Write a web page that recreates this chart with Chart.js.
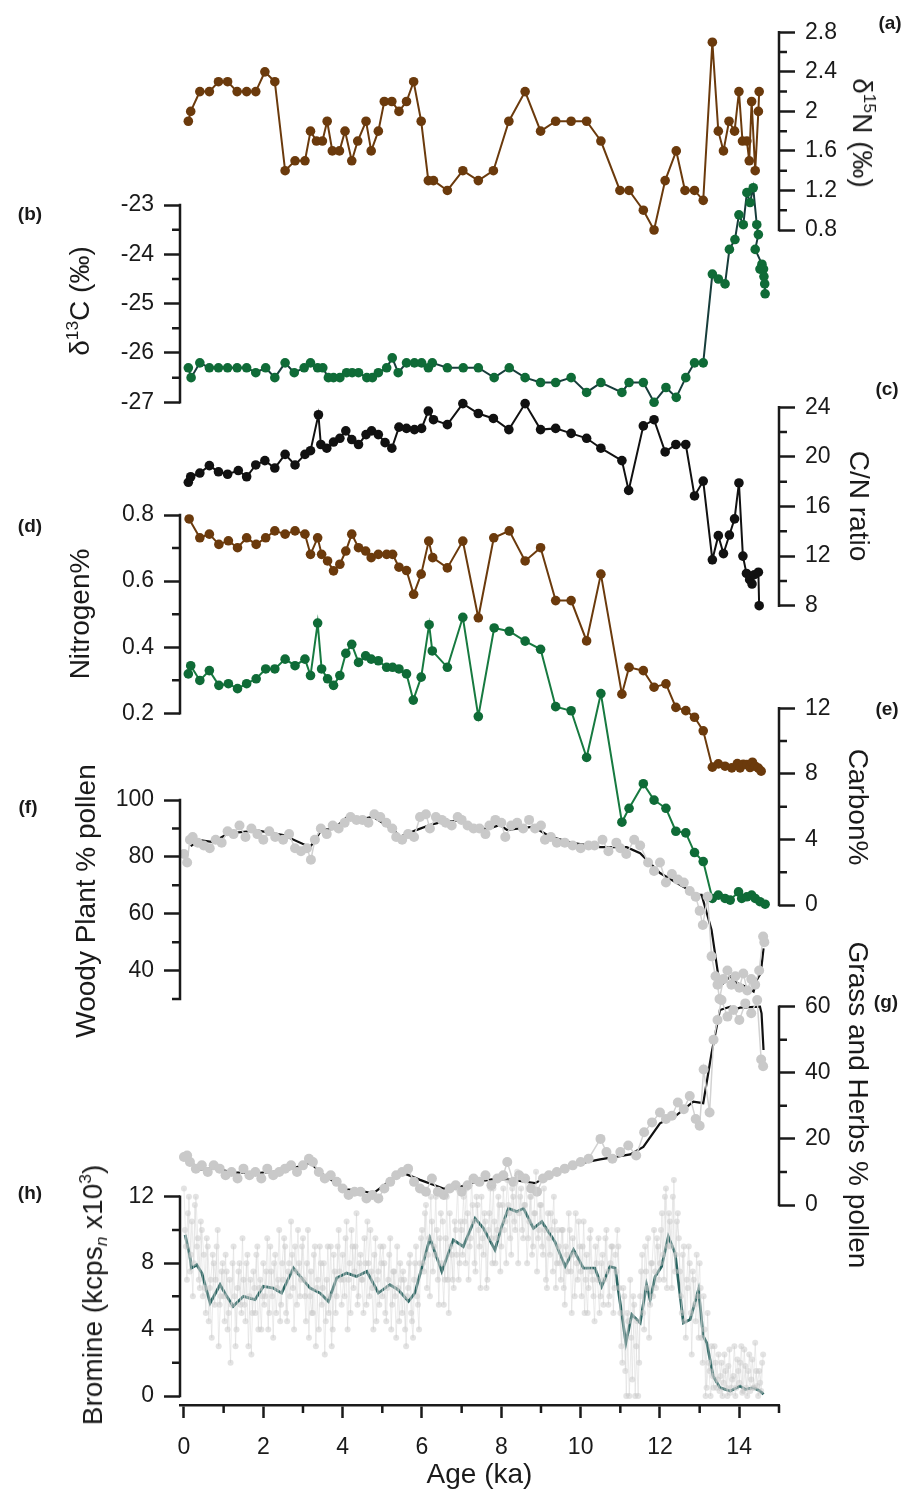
<!DOCTYPE html>
<html lang="en">
<head>
<meta charset="UTF-8">
<title>Lake core proxies</title>
<script src="https://cdnjs.cloudflare.com/ajax/libs/Chart.js/4.4.0/chart.umd.min.js"></script>
<style>
  body { margin: 0; background: #fff; }
  #wrap { position: relative; width: 914px; height: 1495px; font-family: "Liberation Sans", Arial, Helvetica, sans-serif; color: #1a1a1a; }
  #wrap canvas { position: absolute; left: 0; top: 0; }
  .lab { position: absolute; white-space: nowrap; transform: translate(-50%, -50%); line-height: 1; z-index: 5; }
  .tag { font-weight: bold; font-size: 19px; }
  .ttl { font-size: 28px; }
  .rl { transform: translate(-50%, -50%) rotate(-90deg); }
  .rr { transform: translate(-50%, -50%) rotate(90deg); }
  sup { font-size: 0.62em; vertical-align: 0.62em; line-height: 0; }
  sub { font-size: 0.62em; vertical-align: -0.3em; line-height: 0; }
</style>
</head>
<body>
<div id="wrap">
  <div class="lab tag" style="left:890px;top:22px">(a)</div>
  <div class="lab tag" style="left:30px;top:213px">(b)</div>
  <div class="lab tag" style="left:887px;top:388px">(c)</div>
  <div class="lab tag" style="left:30px;top:525px">(d)</div>
  <div class="lab tag" style="left:887px;top:708px">(e)</div>
  <div class="lab tag" style="left:28px;top:806px">(f)</div>
  <div class="lab tag" style="left:886px;top:1001px">(g)</div>
  <div class="lab tag" style="left:30px;top:1192px">(h)</div>

  <div class="lab ttl rr" style="left:862px;top:133px">δ<sup>15</sup>N (‰)</div>
  <div class="lab ttl rl" style="left:80px;top:301px">δ<sup>13</sup>C (‰)</div>
  <div class="lab ttl rr" style="left:859px;top:506px">C/N ratio</div>
  <div class="lab ttl rl" style="left:80px;top:614px">Nitrogen%</div>
  <div class="lab ttl rr" style="left:858px;top:807px">Carbon%</div>
  <div class="lab ttl rl" style="left:86px;top:901px">Woody Plant % pollen</div>
  <div class="lab ttl rr" style="left:858px;top:1105px">Grass and Herbs % pollen</div>
  <div class="lab ttl rl" style="left:93px;top:1295px">Bromine (kcps<sub><i>n</i></sub> x10<sup>3</sup>)</div>
</div>

<script>
// ---- data (ages in ka) ----
const n15Age = [0.11,0.17,0.40,0.64,0.87,1.10,1.34,1.58,1.81,2.04,2.29,2.55,2.80,3.05,3.19,3.34,3.49,3.61,3.74,3.92,4.06,4.23,4.38,4.59,4.72,4.90,5.05,5.24,5.42,5.61,5.79,5.98,6.16,6.29,6.64,7.03,7.42,7.80,8.19,8.60,8.99,9.37,9.76,10.15,10.51,10.99,11.22,11.58,11.85,12.13,12.41,12.63,12.87,13.09,13.32,13.47,13.60,13.74,13.88,13.99,14.08,14.19,14.25,14.31,14.40,14.48,14.50];
const n15Val = [1.9,2.0,2.2,2.2,2.3,2.3,2.2,2.2,2.2,2.4,2.3,1.4,1.5,1.5,1.8,1.7,1.7,1.9,1.6,1.6,1.8,1.5,1.7,1.9,1.6,1.8,2.1,2.1,2.0,2.1,2.3,1.9,1.3,1.3,1.2,1.4,1.3,1.4,1.9,2.2,1.8,1.9,1.9,1.9,1.7,1.2,1.2,1.0,0.8,1.3,1.6,1.2,1.2,1.1,2.7,1.8,1.6,1.9,1.8,2.2,1.7,1.7,1.5,2.1,1.4,2.0,2.2];

const c13Age = [0.11,0.18,0.40,0.64,0.87,1.10,1.34,1.58,1.81,2.06,2.29,2.55,2.78,3.03,3.19,3.37,3.50,3.64,3.77,3.93,4.10,4.24,4.40,4.61,4.75,4.90,5.11,5.25,5.40,5.61,5.81,5.99,6.16,6.26,6.64,7.04,7.42,7.82,8.20,8.60,8.99,9.37,9.76,10.15,10.51,11.04,11.22,11.58,11.85,12.15,12.41,12.65,12.87,13.09,13.32,13.47,13.64,13.75,13.89,13.99,14.10,14.19,14.27,14.35,14.44,14.48,14.40,14.57,14.52,14.61,14.62,14.64,14.65];
const c13Val = [-26.3,-26.5,-26.2,-26.3,-26.3,-26.3,-26.3,-26.3,-26.4,-26.3,-26.5,-26.2,-26.4,-26.3,-26.2,-26.3,-26.3,-26.5,-26.5,-26.5,-26.4,-26.4,-26.4,-26.5,-26.5,-26.4,-26.3,-26.1,-26.4,-26.2,-26.2,-26.2,-26.3,-26.2,-26.3,-26.3,-26.3,-26.5,-26.3,-26.5,-26.6,-26.6,-26.5,-26.8,-26.6,-26.8,-26.6,-26.6,-27.0,-26.7,-26.9,-26.5,-26.2,-26.2,-24.4,-24.5,-24.6,-23.9,-23.7,-23.2,-23.4,-22.75,-22.95,-22.65,-23.4,-23.6,-23.9,-24.2,-24.3,-24.3,-24.45,-24.6,-24.8];

const cnAge = [0.11,0.17,0.40,0.64,0.87,1.10,1.37,1.58,1.81,2.04,2.29,2.55,2.80,3.05,3.19,3.39,3.45,3.60,3.77,3.93,4.08,4.23,4.40,4.59,4.73,4.90,5.07,5.24,5.42,5.61,5.81,5.99,6.16,6.29,6.64,7.03,7.42,7.80,8.19,8.60,8.99,9.37,9.76,10.15,10.51,11.04,11.21,11.58,11.85,12.13,12.40,12.65,12.87,13.09,13.32,13.47,13.60,13.75,13.88,13.99,14.09,14.18,14.26,14.32,14.38,14.48,14.50];
const cnVal = [17.95,18.4,18.7,19.3,18.8,18.6,18.9,18.4,19.35,19.7,19.1,20.2,19.35,20.2,20.5,23.4,21.0,20.7,21.2,21.5,22.1,21.4,21.0,21.8,22.1,21.8,21.15,20.7,22.4,22.3,22.2,22.3,23.7,23.0,22.6,24.3,23.5,23.1,22.2,24.3,22.2,22.3,21.9,21.5,20.7,19.7,17.3,22.5,23.0,20.4,21.0,21.0,16.85,18.05,11.7,13.65,12.2,13.7,15.0,17.9,12.0,10.6,10.1,9.75,10.5,10.7,8.0];

const nitAge = [0.13,0.40,0.64,0.88,1.12,1.35,1.58,1.82,2.06,2.29,2.55,2.80,3.05,3.19,3.37,3.47,3.62,3.77,3.93,4.08,4.23,4.40,4.58,4.72,4.90,5.11,5.26,5.42,5.61,5.79,5.98,6.17,6.27,6.64,7.03,7.42,7.81,8.20,8.60,8.99,9.37,9.76,10.15,10.51,11.04,11.22,11.58,11.85,12.15,12.40,12.65,12.87,13.09,13.32,13.47,13.64,13.81,13.95,14.02,14.10,14.19,14.27,14.33,14.40,14.48,14.55];
const nitVal = [0.788,0.731,0.742,0.711,0.722,0.701,0.731,0.711,0.731,0.752,0.742,0.752,0.742,0.681,0.731,0.681,0.661,0.631,0.651,0.691,0.742,0.701,0.691,0.671,0.681,0.681,0.681,0.642,0.632,0.560,0.621,0.721,0.671,0.640,0.721,0.489,0.731,0.752,0.661,0.701,0.541,0.541,0.419,0.621,0.258,0.339,0.329,0.279,0.289,0.218,0.208,0.188,0.147,0.037,0.047,0.040,0.035,0.048,0.035,0.046,0.045,0.036,0.052,0.040,0.034,0.025];

const carbAge = [0.11,0.17,0.40,0.64,0.88,1.12,1.35,1.58,1.82,2.06,2.29,2.55,2.80,3.05,3.19,3.37,3.47,3.62,3.77,3.93,4.08,4.23,4.40,4.58,4.72,4.90,5.11,5.26,5.42,5.61,5.78,5.98,6.18,6.26,6.64,7.03,7.42,7.82,8.20,8.60,8.99,9.37,9.76,10.15,10.51,11.04,11.22,11.58,11.85,12.15,12.40,12.65,12.87,13.09,13.32,13.47,13.64,13.77,13.98,14.06,14.19,14.31,14.40,14.52,14.65];
const carbVal = [14.1,14.6,13.7,14.3,13.4,13.5,13.2,13.5,13.8,14.4,14.4,15.0,14.6,15.0,14.0,17.2,14.4,13.8,13.4,14.0,15.35,15.9,14.8,15.2,15.0,14.9,14.5,14.5,14.4,14.1,12.5,13.9,17.1,15.5,14.5,17.55,11.5,16.9,16.7,16.1,15.6,12.1,11.85,9.0,12.9,5.05,5.9,7.4,6.4,5.9,4.5,4.4,3.2,2.65,0.4,0.6,0.4,0.3,0.8,0.4,0.5,0.6,0.4,0.2,0.05];

const woodyAge = [0.0,0.08,0.15,0.22,0.35,0.5,0.65,0.8,0.95,1.1,1.25,1.4,1.55,1.7,1.85,2.0,2.15,2.3,2.5,2.65,2.8,2.95,3.1,3.2,3.3,3.45,3.6,3.75,3.9,4.05,4.2,4.35,4.5,4.65,4.8,4.95,5.1,5.25,5.35,5.5,5.65,5.8,5.95,6.1,6.2,6.35,6.5,6.6,6.75,6.9,7.0,7.15,7.3,7.45,7.6,7.7,7.85,8.0,8.1,8.25,8.4,8.55,8.7,8.85,9.0,9.1,9.25,9.4,9.6,9.8,10.0,10.2,10.35,10.55,10.7,10.9,11.0,11.15,11.35,11.5,11.7,11.85,12.0,12.15,12.3,12.45,12.6,12.75,12.9,13.0,13.08,13.2,13.3,13.4,13.45,13.5,13.6,13.7,13.8,13.9,14.0,14.1,14.2,14.3,14.4,14.5,14.6,14.63];
const woodyVal = [81,78,86,87,85,84,83,86,85,89,88,91,87,90,88,86,89,87,86,88,83,82,83,79,86,90,88,91,90,92,94,93,93,92,95,94,92,90,87,86,88,87,94,95,90,94,93,92,91,94,93,91,90,90,88,91,93,92,87,91,92,90,93,90,91,86,87,85,85,84,83,84,84,86,82,85,83,81,86,84,78,75,78,71,74,72,71,68,66,61,56,66,45,38,35,30,37,40,35,38,34,39,33,37,35,40,52,50];
const woodyFitAge = [0.17,0.4,0.74,1.12,1.58,1.87,2.5,3.18,3.47,3.77,4.1,4.4,4.77,5.28,5.45,5.87,6.2,6.54,6.88,7.21,7.63,7.97,8.14,8.47,8.81,9.23,9.82,10.49,11.16,11.5,12.0,12.59,12.88,13.05,13.3,13.51,13.77,13.94,14.15,14.36,14.44,14.54,14.61];
const woodyFitVal = [83.8,85.9,85.2,88.3,88.9,89.2,87.7,83.4,89.5,89.8,93.9,93.0,94.1,89.5,87.1,89.5,91.2,92.4,92.7,91.2,89.7,91.2,89.5,90.0,90.6,87.1,84.8,83.4,83.4,81.3,74.3,69.5,66.6,66.6,54.3,34.4,37.9,35.6,34.4,32.6,36.7,39.1,47.8];

const grassAge = [0.0,0.08,0.15,0.3,0.45,0.6,0.75,0.9,1.05,1.2,1.35,1.5,1.65,1.8,1.95,2.1,2.25,2.4,2.55,2.7,2.85,3.0,3.15,3.25,3.4,3.55,3.7,3.85,4.0,4.15,4.3,4.45,4.6,4.75,4.9,5.05,5.2,5.35,5.5,5.65,5.8,5.95,6.1,6.25,6.4,6.55,6.7,6.85,7.0,7.15,7.3,7.45,7.6,7.75,7.9,8.05,8.15,8.3,8.45,8.6,8.75,8.9,9.05,9.2,9.4,9.6,9.8,10.0,10.2,10.5,10.65,10.8,11.0,11.2,11.4,11.6,11.8,12.0,12.15,12.3,12.45,12.6,12.75,12.9,13.0,13.1,13.25,13.35,13.45,13.55,13.7,13.85,14.0,14.15,14.3,14.45,14.55,14.6];
const grassVal = [14.5,15,13,11,12,10,12,11,9,10,8,11,9,10,8,11,9,10,11,12,10,12,14,13,10,8,9,7,5,3,4,4,2,3,2,5,7,9,10,11,7,5,4,8,4,3,5,6,4,6,8,7,9,6,8,9,13,7,9,8,5,4,8,9,10,11,12,13,14,20,16,14,16,18,15,22,25,28,26,27,31,29,33,26,24,41,28,50,56,62,57,59,56,61,58,62,44,42];
const grassFitAge = [0.15,0.4,0.74,1.24,1.75,2.34,2.76,3.18,3.51,4.1,4.44,4.77,5.28,5.45,5.95,6.54,6.83,7.29,7.8,8.14,8.56,8.85,9.31,9.98,10.49,11.25,11.58,12.0,12.42,12.84,13.09,13.3,13.51,13.77,13.85,14.02,14.52,14.56,14.61];
const grassFitVal = [13.1,10.8,11.1,9.9,9.6,10.1,11.1,12.8,9.1,4.7,4.3,3.5,8.1,10.1,7.6,5.0,5.0,6.8,7.8,7.8,7.1,6.6,9.6,12.6,13.8,15.3,17.6,24.7,27.2,31.3,30.8,45.9,59.0,60.0,59.0,59.7,60.0,58.0,46.9];

// bromine scan, read as two interleaved passes (every 0.05 ka, offset by 0.025 ka)
const brAge = [
  0,0.05,0.1,0.15,0.2,0.25,0.3,0.35,0.4,0.45, 0.5,0.55,0.6,0.65,0.7,0.75,0.8,0.85,0.9,0.95,
  1,1.05,1.1,1.15,1.2,1.25,1.3,1.35,1.4,1.45, 1.5,1.55,1.6,1.65,1.7,1.75,1.8,1.85,1.9,1.95,
  2,2.05,2.1,2.15,2.2,2.25,2.3,2.35,2.4,2.45, 2.5,2.55,2.6,2.65,2.7,2.75,2.8,2.85,2.9,2.95,
  3,3.05,3.1,3.15,3.2,3.25,3.3,3.35,3.4,3.45, 3.5,3.55,3.6,3.65,3.7,3.75,3.8,3.85,3.9,3.95,
  4,4.05,4.1,4.15,4.2,4.25,4.3,4.35,4.4,4.45, 4.5,4.55,4.6,4.65,4.7,4.75,4.8,4.85,4.9,4.95,
  5,5.05,5.1,5.15,5.2,5.25,5.3,5.35,5.4,5.45, 5.5,5.55,5.6,5.65,5.7,5.75,5.8,5.85,5.9,5.95,
  6,6.05,6.1,6.15,6.2,6.25,6.3,6.35,6.4,6.45, 6.5,6.55,6.6,6.65,6.7,6.75,6.8,6.85,6.9,6.95,
  7,7.05,7.1,7.15,7.2,7.25,7.3,7.35,7.4,7.45, 7.5,7.55,7.6,7.65,7.7,7.75,7.8,7.85,7.9,7.95,
  8,8.05,8.1,8.15,8.2,8.25,8.3,8.35,8.4,8.45, 8.5,8.55,8.6,8.65,8.7,8.75,8.8,8.85,8.9,8.95,
  9,9.05,9.1,9.15,9.2,9.25,9.3,9.35,9.4,9.45, 9.5,9.55,9.6,9.65,9.7,9.75,9.8,9.85,9.9,9.95,
  10,10.05,10.1,10.15,10.2,10.25,10.3,10.35,10.4,10.45, 10.5,10.55,10.6,10.65,10.7,10.75,10.8,10.85,10.9,10.95,
  11,11.05,11.1,11.15,11.2,11.25,11.3,11.35,11.4,11.45, 11.5,11.55,11.6,11.65,11.7,11.75,11.8,11.85,11.9,11.95,
  12,12.05,12.1,12.15,12.2,12.25,12.3,12.35,12.4,12.45, 12.5,12.55,12.6,12.65,12.7,12.75,12.8,12.85,12.9,12.95,
  13,13.05,13.1,13.15,13.2,13.25,13.3,13.35,13.4,13.45, 13.5,13.55,13.6,13.65,13.7,13.75,13.8,13.85,13.9,13.95,
  14,14.05,14.1,14.15,14.2,14.25,14.3,14.35,14.4,14.45, 14.5,14.55,14.6];
const brVal = [
  12.5,9,11,7.5,10.5,8,12,9.5,6.5,10, 8.5,5,9,6.5,3.5,8,7,10,5.5,7.5,
  6,8.5,4,7,5.5,9,3,6.5,8,5, 7,4.5,8.5,6,2.5,7.5,5,9,6.5,4,
  8,6,9.5,5,7.5,3.5,8.5,6.5,10,5.5, 7,9,4.5,8,10.5,6.5,9,5.5,8,7,
  9.5,6,8,3.5,7.5,5,9,6.5,4,8, 6.5,2.5,7,5,9,4,7.5,6,10,7,
  8.5,6,10.5,7,5,9,7.5,11,6,8.5, 7,9.5,5.5,8,10,6.5,8.5,4.5,7.5,9,
  6,8,4.5,7,9.5,5.5,7.5,3.5,6.5,8, 5,7,3,6.5,8.5,4.5,7,9,5.5,8,
  10,7.5,11.5,8.5,6,10.5,9,12,7,9.5, 8,5.5,9.5,7,11,8.5,6.5,10,12.5,8,
  10,12,8,11,9,13,10.5,7.5,11.5,9, 12,8.5,10.5,7,11,9.5,12.5,8,10,11.5,
  9,12.5,10.5,13,11,8.5,12,10,13.5,11, 12.5,9.5,11.5,8,10.5,12,9,11,7.5,10,
  11.5,8.5,10,6.5,9.5,11,7.5,10.5,8,9, 7,10,5.5,8.5,11,7.5,9.5,6,8,10.5,
  7.5,9,5,8.5,6.5,10,7,4.5,8,9.5, 6,8.5,7,10,5.5,8,9,6.5,7.5,9,
  5,2,6,0,4.5,7,1,5.5,3,0, 6,8.5,4,7.5,9.5,5.5,8,10,6.5,9,
  8,11,7,12.5,9,10.5,6.5,13,8.5,11, 7.5,5,9,3.5,6.5,8,2.5,7,4.5,6,
  8,3.5,6,0,5,1.5,3,0.5,2,1, 0.3,2,0.8,1.5,0,2.8,0.5,1.2,0,2.2,
  0.8,3,0.3,1.8,0,2.5,1,0.5,3.2,0.6, 1.5,0.3,2.5];
const brAge2 = [
  0.025,0.075,0.125,0.175,0.225,0.275,0.325,0.375,0.425,0.475, 0.525,0.575,0.625,0.675,0.725,0.775,0.825,0.875,0.925,0.975,
  1.025,1.075,1.125,1.175,1.225,1.275,1.325,1.375,1.425,1.475, 1.525,1.575,1.625,1.675,1.725,1.775,1.825,1.875,1.925,1.975,
  2.025,2.075,2.125,2.175,2.225,2.275,2.325,2.375,2.425,2.475, 2.525,2.575,2.625,2.675,2.725,2.775,2.825,2.875,2.925,2.975,
  3.025,3.075,3.125,3.175,3.225,3.275,3.325,3.375,3.425,3.475, 3.525,3.575,3.625,3.675,3.725,3.775,3.825,3.875,3.925,3.975,
  4.025,4.075,4.125,4.175,4.225,4.275,4.325,4.375,4.425,4.475, 4.525,4.575,4.625,4.675,4.725,4.775,4.825,4.875,4.925,4.975,
  5.025,5.075,5.125,5.175,5.225,5.275,5.325,5.375,5.425,5.475, 5.525,5.575,5.625,5.675,5.725,5.775,5.825,5.875,5.925,5.975,
  6.025,6.075,6.125,6.175,6.225,6.275,6.325,6.375,6.425,6.475, 6.525,6.575,6.625,6.675,6.725,6.775,6.825,6.875,6.925,6.975,
  7.025,7.075,7.125,7.175,7.225,7.275,7.325,7.375,7.425,7.475, 7.525,7.575,7.625,7.675,7.725,7.775,7.825,7.875,7.925,7.975,
  8.025,8.075,8.125,8.175,8.225,8.275,8.325,8.375,8.425,8.475, 8.525,8.575,8.625,8.675,8.725,8.775,8.825,8.875,8.925,8.975,
  9.025,9.075,9.125,9.175,9.225,9.275,9.325,9.375,9.425,9.475, 9.525,9.575,9.625,9.675,9.725,9.775,9.825,9.875,9.925,9.975,
  10.025,10.075,10.125,10.175,10.225,10.275,10.325,10.375,10.425,10.475, 10.525,10.575,10.625,10.675,10.725,10.775,10.825,10.875,10.925,10.975,
  11.025,11.075,11.125,11.175,11.225,11.275,11.325,11.375,11.425,11.475, 11.525,11.575,11.625,11.675,11.725,11.775,11.825,11.875,11.925,11.975,
  12.025,12.075,12.125,12.175,12.225,12.275,12.325,12.375,12.425,12.475, 12.525,12.575,12.625,12.675,12.725,12.775,12.825,12.875,12.925,12.975,
  13.025,13.075,13.125,13.175,13.225,13.275,13.325,13.375,13.425,13.475, 13.525,13.575,13.625,13.675,13.725,13.775,13.825,13.875,13.925,13.975,
  14.025,14.075,14.125,14.175,14.225,14.275,14.325,14.375,14.425,14.475, 14.525,14.575];
const brVal2 = [
  10,7,12,8.5,6,11.5,9,7,10.5,6, 6.5,9.5,4.5,7,8.5,5.5,9,3,6,8,
  4.5,7.5,5,2,8,6,4,7.5,5.5,9.5, 5.5,8,3,7,5,6.5,8.5,4,7,6,
  5.5,7.5,4,9,6,8,5,7,4.5,8, 9.5,5,7.5,6,8.5,4,7.5,10,6,9,
  7,4.5,10,6,5,8.5,3,7,9,5.5, 8,4.5,9,6,3,8.5,5,9,7.5,5.5,
  7,9.5,4,8,10,6.5,9,5.5,8,7, 5,8,10.5,6,7.5,4,9.5,7,5.5,8,
  9,5,6.5,8.5,4,7.5,6,9,4.5,7, 7.5,4,6,8,5,3.5,8,6,4,9.5,
  8,11,6.5,9.5,12,7.5,8.5,10,5.5,11, 10.5,7,12,5,9,7,10.5,8.5,7,10.5,
  8.5,10.5,12.5,7,9.5,11.5,8,12,10,6.5, 9.5,11,6.5,10,12.5,8,10.5,9.5,12,7.5,
  11.5,10,8,11.5,9.5,12.5,10.5,13,8,12, 10,11.5,13,9.5,12,8.5,11,13.5,9.5,11.5,
  9,12.5,7,11,8.5,10,12,6.5,10,8, 10,6.5,9,7.5,10,5,8.5,11,7,9,
  6,10.5,7,5,9.5,7.5,6,9,7,5, 8,5.5,9.5,7.5,6,9,5,8.5,10,6.5,
  3,6.5,1.5,5,0,3.5,6,0,4.5,2, 7.5,5,9,6.5,3.5,8,6,7.5,9.5,7,
  10,8.5,12,6.5,11,9,12,7.5,10.5,9.5, 6,8.5,4.5,7,9,5,7.5,5.5,8.5,3.5,
  6.5,2,4,0.5,2,0,1.2,3,0.5,2.5, 1.2,0,2.5,0.5,1.8,0.2,1,3,0.5,1.5,
  2,0.2,2.8,0.5,1.5,0.3,2.2,0.5,1.5,0, 0.8,2];
const brFitAge = [0.03,0.15,0.19,0.32,0.45,0.66,0.91,1.08,1.24,1.5,1.79,2.0,2.25,2.46,2.76,2.93,3.18,3.43,3.64,3.85,4.1,4.35,4.61,4.9,5.19,5.4,5.66,5.82,6.2,6.5,6.79,7.04,7.34,7.55,7.84,8.01,8.18,8.39,8.56,8.81,9.02,9.35,9.61,9.82,10.07,10.36,10.53,10.74,10.87,11.14,11.29,11.5,11.66,11.75,11.88,12.04,12.21,12.38,12.59,12.76,12.97,13.09,13.18,13.34,13.51,13.77,14.02,14.15,14.36,14.52,14.61];
const brFitVal = [9.7,8.4,7.7,7.9,7.4,5.6,6.7,6.0,5.4,6.0,5.8,6.6,6.5,6.2,7.7,7.2,6.5,6.2,5.7,7.1,7.4,7.2,7.5,6.2,6.7,6.4,5.7,6.2,9.5,7.5,9.4,9.0,10.7,10.1,8.8,10.2,11.3,11.1,11.3,10.1,10.5,9.3,7.8,8.8,7.7,7.7,6.6,7.8,7.7,3.2,4.9,4.4,6.7,5.8,7.2,7.8,9.6,8.6,4.4,4.6,6.4,3.6,3.2,1.2,0.5,0.3,0.6,0.4,0.5,0.3,0.1];

// ---- axis ticks ----
const ageTicks = [0, 2, 4, 6, 8, 10, 12, 14];
const ageMinor = [1, 3, 5, 7, 9, 11, 13, 15];
const n15Ticks = [0.8, 1.2, 1.6, 2, 2.4, 2.8];
const n15Minor = [1.0, 1.4, 1.8, 2.2, 2.6];
const c13Ticks = [-27, -26, -25, -24, -23];
const c13Minor = [-26.5, -25.5, -24.5, -23.5];
const cnTicks = [8, 12, 16, 20, 24];
const cnMinor = [10, 14, 18, 22];
const nitTicks = [0.2, 0.4, 0.6, 0.8];
const nitMinor = [0.3, 0.5, 0.7];
const carbTicks = [0, 4, 8, 12];
const carbMinor = [2, 6, 10];
const woodyTicks = [40, 60, 80, 100];
const woodyMinor = [30, 50, 70, 90];
const grassTicks = [0, 20, 40, 60];
const grassMinor = [10, 30, 50];
const brTicks = [0, 4, 8, 12];
const brMinor = [2, 6, 10];

// ---- layout ----
const W = 914, H = 1495;
const AREA_L = 180, AREA_R = 779, AX_W = 100;
const AGE_MIN = -0.1, AGE_MAX = 15;
const INK = '#1a1a1a';
const BROWN = '#6b3a0c', GREEN = '#0f6b37', TEAL = '#2a6562';

Chart.defaults.font.family = '"Liberation Sans", Arial, Helvetica, sans-serif';
Chart.defaults.color = INK;

// axis spine limited to the labelled range, plus short minor ticks
const spine = {
    id: 'spine',
    afterDraw(chart, args, opts) {
        const s = chart.scales[opts.axis];
        if (!s) return;
        const ctx = chart.ctx;
        ctx.save();
        ctx.strokeStyle = INK;
        ctx.lineWidth = 2.5;
        ctx.lineCap = 'butt';
        ctx.beginPath();
        if (!s.isHorizontal() && opts.from !== undefined) {
            const x = s.position === 'left' ? s.right : s.left;
            ctx.moveTo(x, s.getPixelForValue(opts.to) - 1.25);
            ctx.lineTo(x, s.getPixelForValue(opts.from) + 1.25);
        }
        (opts.values || []).forEach(v => {
            const p = s.getPixelForValue(v);
            if (s.isHorizontal()) {
                ctx.moveTo(p, s.top); ctx.lineTo(p, s.top + opts.len);
            } else if (s.position === 'left') {
                ctx.moveTo(s.right, p); ctx.lineTo(s.right - opts.len, p);
            } else {
                ctx.moveTo(s.left, p); ctx.lineTo(s.left + opts.len, p);
            }
        });
        ctx.stroke();
        ctx.restore();
    }
};

function pts(ages, vals) {
    return ages.map((a, i) => ({ x: a, y: vals[i] }));
}

function dotted(ages, vals, dot, line) {
    return {
        data: pts(ages, vals), showLine: true, clip: false,
        borderColor: line, borderWidth: 2,
        pointRadius: 4.8, pointHoverRadius: 4.8, pointBackgroundColor: dot, pointBorderWidth: 0
    };
}

function grayDots(ages, vals, r, dot, line, lw) {
    return {
        data: pts(ages, vals), showLine: true, clip: false,
        borderColor: line, borderWidth: lw,
        pointRadius: r, pointHoverRadius: r, pointBackgroundColor: dot, pointBorderWidth: 0
    };
}

function fitLine(ages, vals, col, lw) {
    return {
        data: pts(ages, vals), showLine: true, clip: false,
        borderColor: col, borderWidth: lw, pointRadius: 0, pointHoverRadius: 0
    };
}

function newCanvas() {
    const cv = document.createElement('canvas');
    cv.width = W;
    cv.height = H;
    document.getElementById('wrap').appendChild(cv);
    return cv;
}

// lo sits at pixel row pBot, hi at pTop; the plot area spans the whole page height
// so points that stray past the labelled range are still drawn
function panel(side, pTop, pBot, lo, hi, major, minor, datasets) {
    const k = (hi - lo) / (pBot - pTop);
    const yMax = hi + k * pTop;
    const yMin = lo - k * (H - pBot);
    const pad = side === 'left'
        ? { top: 0, bottom: 0, left: AREA_L - AX_W, right: W - AREA_R }
        : { top: 0, bottom: 0, left: AREA_L, right: W - AREA_R - AX_W };
    return new Chart(newCanvas(), {
        type: 'scatter',
        data: { datasets: datasets },
        options: {
            responsive: false, animation: false, devicePixelRatio: 1, events: [],
            layout: { padding: pad, autoPadding: false },
            plugins: {
                legend: { display: false }, tooltip: { enabled: false },
                spine: { axis: 'y', from: lo, to: hi, values: minor, len: 8 }
            },
            scales: {
                x: { type: 'linear', display: false, min: AGE_MIN, max: AGE_MAX },
                y: {
                    type: 'linear', position: side, min: yMin, max: yMax,
                    afterFit: s => { s.width = AX_W; s.paddingTop = 0; s.paddingBottom = 0; },
                    afterBuildTicks: s => { s.ticks = major.map(v => ({ value: v })); },
                    grid: { drawOnChartArea: false, tickLength: 16, tickWidth: 2.5, tickColor: INK },
                    border: { display: false },
                    ticks: { font: { size: 23 }, color: INK, padding: 10, autoSkip: false, callback: v => String(v) }
                }
            }
        },
        plugins: [spine]
    });
}

// (a) d15N, right axis
panel('right', 32.3, 230, 0.8, 2.8, n15Ticks, n15Minor, [dotted(n15Age, n15Val, BROWN, BROWN)]);
// (b) d13C, left axis
panel('left', 205, 402.3, -27, -23, c13Ticks, c13Minor, [dotted(c13Age, c13Val, GREEN, '#173d3b')]);
// (c) C/N, right axis
panel('right', 407.3, 605.7, 8, 24, cnTicks, cnMinor, [dotted(cnAge, cnVal, '#111', '#111')]);
// (d) nitrogen, left axis
panel('left', 515, 713.3, 0.2, 0.8, nitTicks, nitMinor, [dotted(nitAge, nitVal, BROWN, BROWN)]);
// (e) carbon, right axis
panel('right', 708.3, 905, 0, 12, carbTicks, carbMinor, [dotted(carbAge, carbVal, GREEN, '#177a40')]);
// (f) woody pollen, left axis
panel('left', 800, 999, 30, 100, woodyTicks, woodyMinor, [
    grayDots(woodyAge, woodyVal, 5, '#c9c9c9', '#d2d2d2', 1.5),
    fitLine(woodyFitAge, woodyFitVal, '#111', 2.2)
]);
// (g) grass and herbs pollen, right axis
panel('right', 1006.7, 1205, 0, 60, grassTicks, grassMinor, [
    grayDots(grassAge, grassVal, 5, '#c9c9c9', '#d2d2d2', 1.5),
    fitLine(grassFitAge, grassFitVal, '#111', 2.2)
]);
// (h) bromine, left axis
panel('left', 1196.7, 1396, 0, 12, brTicks, brMinor, [
    grayDots(brAge, brVal, 3, 'rgba(200,200,200,0.5)', 'rgba(216,216,216,0.5)', 1),
    grayDots(brAge2, brVal2, 3, 'rgba(200,200,200,0.5)', 'rgba(216,216,216,0.5)', 1),
    fitLine(brFitAge, brFitVal, TEAL, 2.8)
]);

// shared age axis at the bottom
new Chart(newCanvas(), {
    type: 'scatter',
    data: { datasets: [] },
    options: {
        responsive: false, animation: false, devicePixelRatio: 1, events: [],
        layout: { padding: { top: 1300, bottom: H - 1405 - 88, left: AREA_L, right: W - AREA_R }, autoPadding: false },
        plugins: {
            legend: { display: false }, tooltip: { enabled: false },
            spine: { axis: 'x', values: ageMinor, len: 8 }
        },
        scales: {
            x: {
                type: 'linear', position: 'bottom', min: AGE_MIN, max: AGE_MAX,
                afterFit: s => { s.height = 88; },
                afterBuildTicks: s => { s.ticks = ageTicks.map(v => ({ value: v })); },
                grid: { drawOnChartArea: false, tickLength: 13, tickWidth: 2.5, tickColor: INK },
                border: { display: true, color: INK, width: 2.5 },
                ticks: { font: { size: 23 }, color: INK, padding: 16, autoSkip: false, maxRotation: 0, callback: v => String(v) },
                title: { display: true, text: 'Age (ka)', font: { size: 28 }, color: INK, padding: { top: 0, bottom: 1 } }
            },
            y: { display: false, min: 0, max: 1 }
        }
    },
    plugins: [spine]
});
</script>
</body>
</html>
